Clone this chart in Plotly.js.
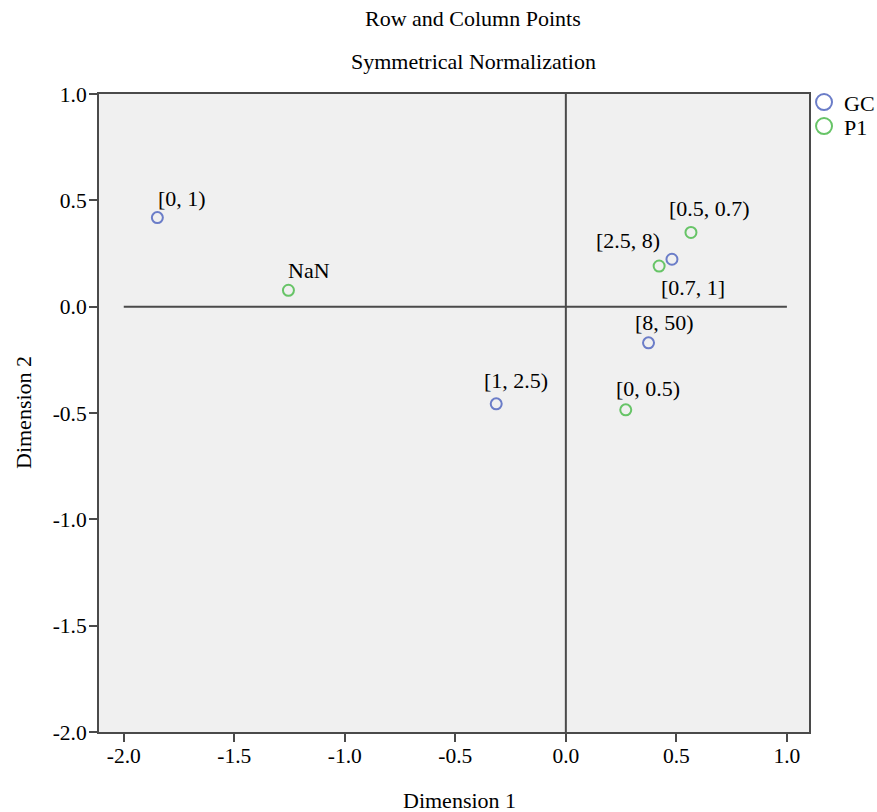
<!DOCTYPE html>
<html>
<head>
<meta charset="utf-8">
<script src="https://cdn.plot.ly/plotly-3.0.1.min.js"></script>
<style>html,body{margin:0;padding:0;background:#fff;}#chart{width:877px;height:812px;}</style>
</head>
<body>
<div id="chart"></div>
<script>
// GC (row points)
const gcLabels = ["[0, 1)", "[2.5, 8)", "[8, 50)", "[1, 2.5)"];
const gcDim1 = [-1.848, 0.480, 0.374, -0.315];
const gcDim2 = [0.419, 0.223, -0.170, -0.457];
// P1 (column points)
const p1Labels = ["NaN", "[0.5, 0.7)", "[0.7, 1]", "[0, 0.5)"];
const p1Dim1 = [-1.255, 0.566, 0.422, 0.271];
const p1Dim2 = [0.077, 0.349, 0.191, -0.485];

const seriesNames = ["GC", "P1"];
const xTicks = [-2.0, -1.5, -1.0, -0.5, 0.0, 0.5, 1.0];
const xTickText = ["-2.0", "-1.5", "-1.0", "-0.5", "0.0", "0.5", "1.0"];
const yTicks = [-2.0, -1.5, -1.0, -0.5, 0.0, 0.5, 1.0];
const yTickText = ["-2.0", "-1.5", "-1.0", "-0.5", "0.0", "0.5", "1.0"];

// label offsets in pixels (left edge of text relative to point, vertical centre offset, + = up)
const gcLabelDx = [1, -76, -14, -12];
const gcLabelDy = [19, 19, 20, 23];
const p1LabelDx = [0, -22, 2, -10];
const p1LabelDy = [20, 24, -21, 21];

const FONT = "Liberation Serif, Times New Roman, serif";
const BLUE = "#6b7dc8";
const GREEN = "#67c467";

const traces = [
  {
    x: gcDim1, y: gcDim2, mode: "markers", type: "scatter",
    name: seriesNames[0], showlegend: false, cliponaxis: false,
    marker: {symbol: "circle-open", size: 11, color: BLUE, line: {width: 2, color: BLUE}}
  },
  {
    x: p1Dim1, y: p1Dim2, mode: "markers", type: "scatter",
    name: seriesNames[1], showlegend: false, cliponaxis: false,
    marker: {symbol: "circle-open", size: 11, color: GREEN, line: {width: 2, color: GREEN}}
  },
  {
    x: [null], y: [null], mode: "markers", type: "scatter", name: seriesNames[0], legend: "legend",
    marker: {symbol: "circle-open", size: 16, color: BLUE, line: {width: 2, color: BLUE}}
  },
  {
    x: [null], y: [null], mode: "markers", type: "scatter", name: seriesNames[1], legend: "legend2",
    marker: {symbol: "circle-open", size: 16, color: GREEN, line: {width: 2, color: GREEN}}
  }
];

const axisCommon = {
  showgrid: false, zeroline: false, showline: true, mirror: true,
  linecolor: "#4a4a4a", linewidth: 2, ticks: "outside", ticklen: 8, tickwidth: 2,
  tickcolor: "#4a4a4a", tickfont: {family: FONT, size: 21.5, color: "#000"}
};

const labelFont = {family: FONT, size: 22, color: "#000"};
const pointAnnotations = [];
function addLabels(xs, ys, texts, dxs, dys) {
  for (let i = 0; i < xs.length; i++) {
    pointAnnotations.push({
      text: texts[i], xref: "x", yref: "y", x: xs[i], y: ys[i],
      xanchor: "left", yanchor: "middle", xshift: dxs[i] - 2, yshift: dys[i],
      showarrow: false, font: labelFont
    });
  }
}
addLabels(gcDim1, gcDim2, gcLabels, gcLabelDx, gcLabelDy);
addLabels(p1Dim1, p1Dim2, p1Labels, p1LabelDx, p1LabelDy);

const legendCommon = {xanchor: "left", yanchor: "top", bgcolor: "rgba(0,0,0,0)",
                      font: {family: FONT, size: 22, color: "#000"}};

const layout = {
  width: 877, height: 812,
  margin: {l: 99, r: 68, t: 94, b: 80, autoexpand: false},
  paper_bgcolor: "#ffffff", plot_bgcolor: "#f0f0f0",
  showlegend: true,
  legend: Object.assign({x: 0.993, y: 1.02}, legendCommon),
  legend2: Object.assign({x: 0.993, y: 0.9824}, legendCommon),
  xaxis: Object.assign({}, axisCommon, {range: [-2.112, 1.10], tickvals: xTicks, ticktext: xTickText, ticklabelstandoff: -5}),
  yaxis: Object.assign({}, axisCommon, {range: [-2.0, 1.0], tickvals: yTicks, ticktext: yTickText, ticklabelstandoff: -2}),
  shapes: [
    {type: "line", xref: "x", yref: "y", x0: -2.0, x1: 1.0, y0: 0, y1: 0, line: {color: "#4a4a4a", width: 2}},
    {type: "line", xref: "x", yref: "y", x0: 0, x1: 0, y0: -2.0, y1: 1.0, line: {color: "#4a4a4a", width: 2}}
  ],
  annotations: [
    {text: "Row and Column Points", xref: "paper", yref: "paper", x: 0.527, y: 1, xanchor: "center", yanchor: "middle",
     yshift: 76, showarrow: false, font: {family: FONT, size: 22, color: "#000"}},
    {text: "Symmetrical Normalization", xref: "paper", yref: "paper", x: 0.527, y: 1, xanchor: "center", yanchor: "middle",
     yshift: 33, showarrow: false, font: {family: FONT, size: 22, color: "#000"}},
    {text: "Dimension 1", xref: "paper", yref: "paper", x: 0.508, y: 0, xanchor: "center", yanchor: "middle",
     yshift: -68, showarrow: false, font: {family: FONT, size: 22, color: "#000"}},
    {text: "Dimension 2", xref: "paper", yref: "paper", x: 0, y: 0.5, xanchor: "center", yanchor: "middle",
     xshift: -76, textangle: -90, showarrow: false, font: {family: FONT, size: 22, color: "#000"}}
  ].concat(pointAnnotations)
};

Plotly.newPlot("chart", traces, layout, {displayModeBar: false, staticPlot: true});
</script>
</body>
</html>
